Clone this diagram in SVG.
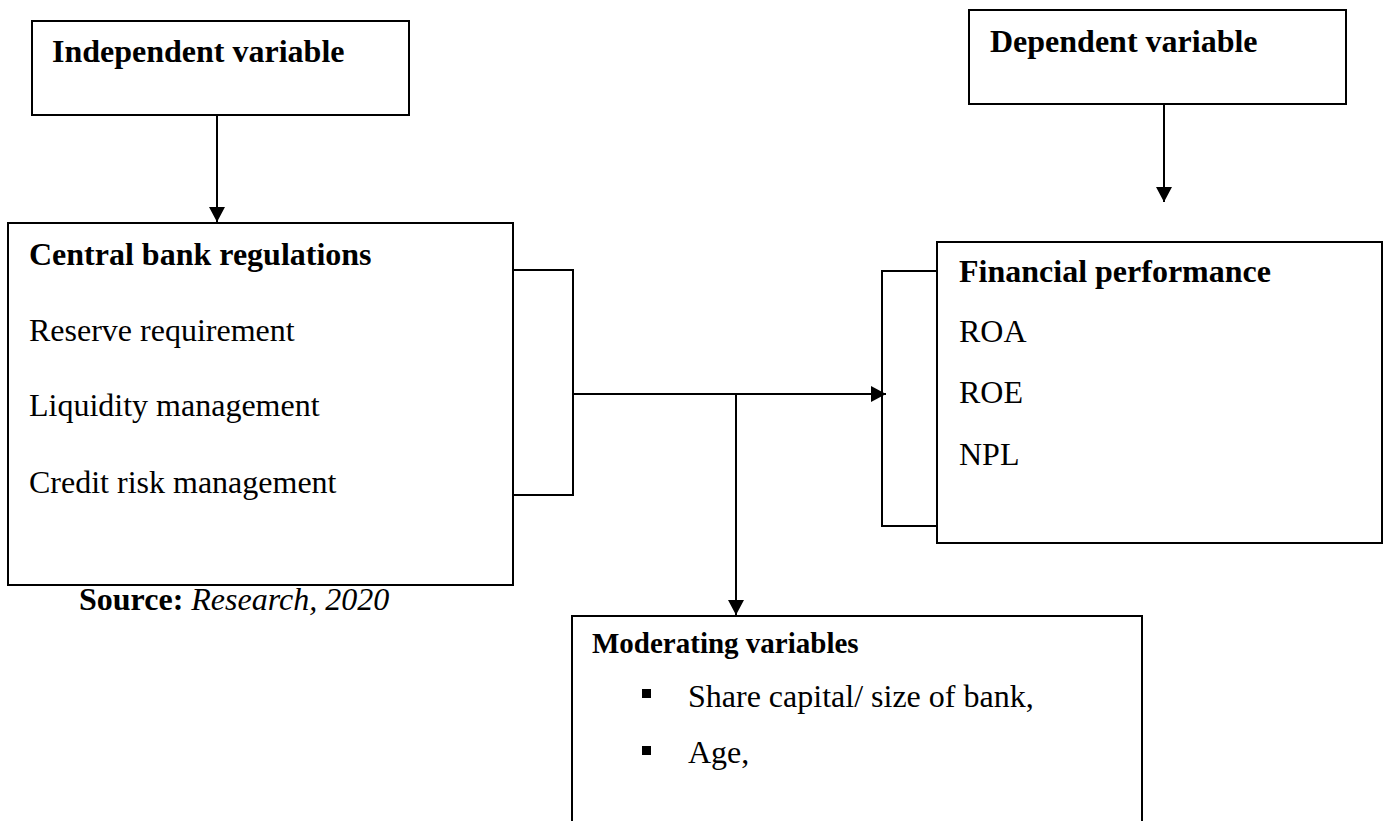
<svg xmlns="http://www.w3.org/2000/svg" width="1390" height="821" viewBox="0 0 1390 821">
<style>
.box{fill:#fff;stroke:#000;stroke-width:2}
.ln{fill:none;stroke:#000;stroke-width:2}
.t{font-family:"Liberation Serif","Times New Roman",serif;font-size:32px;fill:#000}
.b{font-weight:bold}
.i{font-style:italic}
</style>
<defs>
<marker id="ah" markerUnits="userSpaceOnUse" markerWidth="15" markerHeight="16" refX="15" refY="8" orient="auto">
<path d="M0,0 L15,8 L0,16 z" fill="#000"/>
</marker>
</defs>
<rect width="1390" height="821" fill="#fff"/>
<g id="connectors">
<line class="ln" x1="217" y1="115" x2="217" y2="222" marker-end="url(#ah)"/>
<line class="ln" x1="1164" y1="104" x2="1164" y2="202" marker-end="url(#ah)"/>
<path class="ln" d="M513,270 H573 V495 H513"/>
<path class="ln" d="M938,271 H882 V526 H938"/>
<line class="ln" x1="573" y1="394" x2="886" y2="394" marker-end="url(#ah)"/>
<line class="ln" x1="736" y1="394" x2="736" y2="615" marker-end="url(#ah)"/>
</g>
<g id="independent">
<rect class="box" x="32" y="21" width="377" height="94"/>
<text class="t b" x="52" y="62">Independent variable</text>
</g>
<g id="dependent">
<rect class="box" x="969" y="10" width="377" height="94"/>
<text class="t b" x="990" y="52">Dependent variable</text>
</g>
<g id="central">
<rect class="box" x="8" y="223" width="505" height="362"/>
<text class="t b" x="29" y="265">Central bank regulations</text>
<text class="t" x="29" y="341">Reserve requirement</text>
<text class="t" x="29" y="416">Liquidity management</text>
<text class="t" x="29" y="493">Credit risk management</text>
</g>
<g id="source">
<text class="t" x="79" y="610"><tspan class="b">Source:</tspan> <tspan class="i">Research, 2020</tspan></text>
</g>
<g id="financial">
<rect class="box" x="937" y="242" width="445" height="301"/>
<text class="t b" x="959" y="282">Financial performance</text>
<text class="t" x="959" y="342">ROA</text>
<text class="t" x="959" y="403">ROE</text>
<text class="t" x="959" y="465">NPL</text>
</g>
<g id="moderating">
<rect class="box" x="572" y="616" width="570" height="220"/>
<text class="t b" x="592" y="653" style="font-size:29px">Moderating variables</text>
<rect x="642" y="689" width="9" height="9" fill="#000"/>
<text class="t" x="688" y="707">Share capital/ size of bank,</text>
<rect x="642" y="746" width="9" height="9" fill="#000"/>
<text class="t" x="688" y="763">Age,</text>
</g>
</svg>
